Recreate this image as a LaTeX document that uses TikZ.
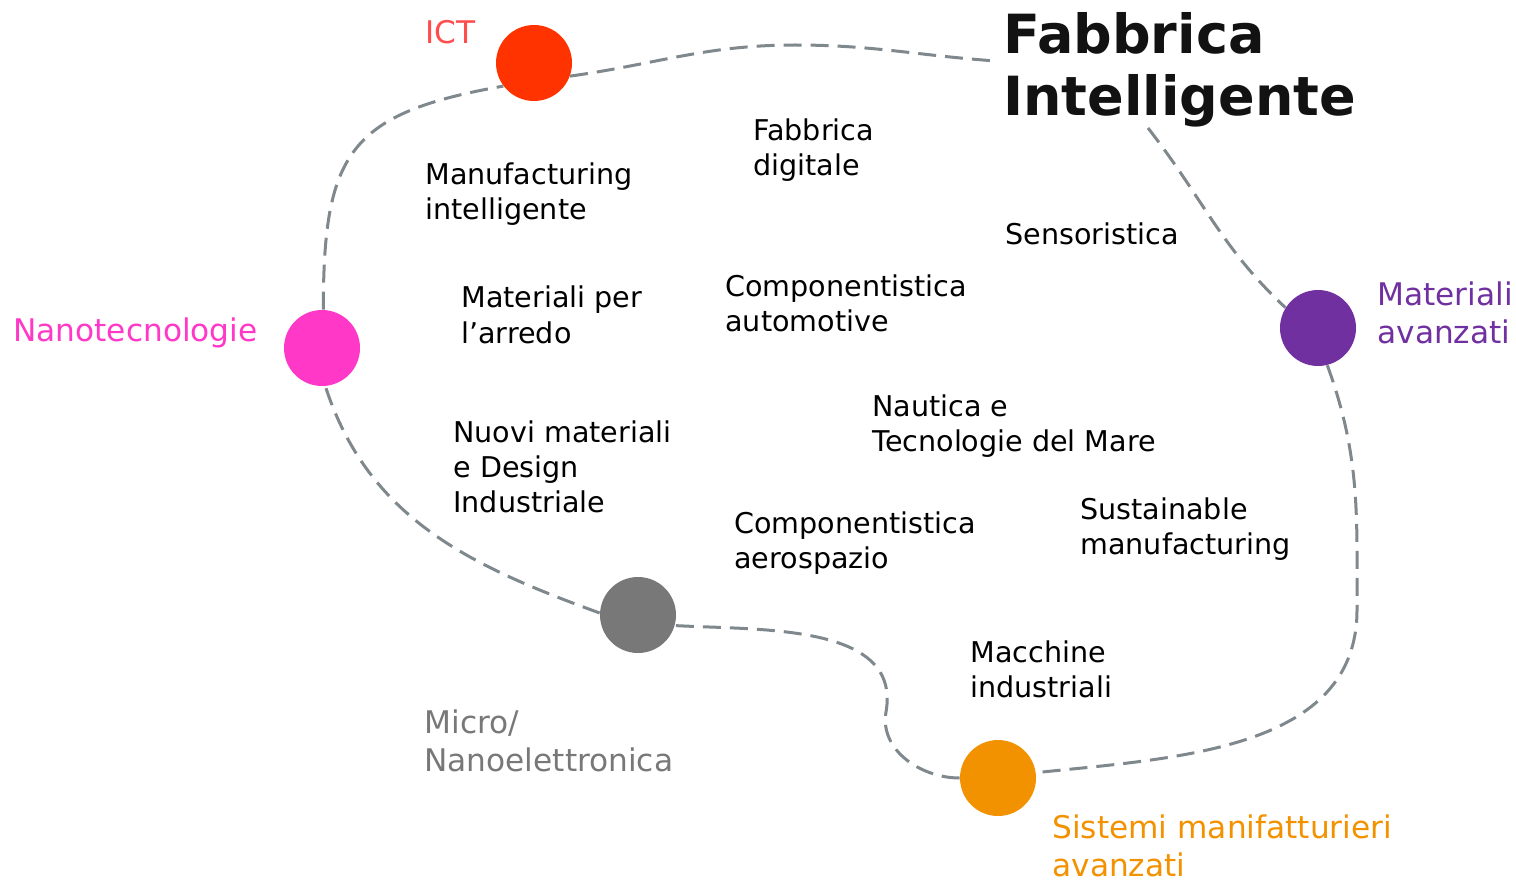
\documentclass[tikz,border=0pt]{standalone}
\usepackage{fontspec}
\setmainfont{DejaVu Sans}
\usepackage{xcolor}
\definecolor{ictred}{RGB}{255,51,0}
\definecolor{ictlabel}{RGB}{255,77,77}
\definecolor{nanopink}{RGB}{255,56,200}
\definecolor{matpurple}{RGB}{112,48,160}
\definecolor{microgrey}{RGB}{120,120,120}
\definecolor{sysorange}{RGB}{243,146,0}
\definecolor{pathgrey}{RGB}{127,136,140}
\tikzset{
    hub/.style={circle, fill=#1, minimum size=38pt, inner sep=0pt},
    field/.style={font=\fontsize{15.6}{19}\selectfont, text=#1,
                  align=left, anchor=base west, inner sep=0pt},
    sector/.style={font=\fontsize{14.3}{17.5}\selectfont,
                   align=left, anchor=base west, inner sep=0pt},
}

\begin{document}
\begin{tikzpicture}[
    x=0.5pt, y=-0.5pt,
    link/.style={pathgrey, line width=1.5pt, dash pattern=on 9pt off 4.5pt},
]
    \useasboundingbox (0,0) rectangle (1516,883);

    \node[anchor=base west, inner sep=0pt, align=left, text=black!93,
          font=\bfseries\fontsize{27}{31}\selectfont] (title) at (1003,116)
          {Fabbrica\\Intelligente};

    \node[hub=ictred] (ict) at (534,63) {};
    \node[hub=nanopink] (nano) at (322,348) {};
    \node[hub=matpurple] (mat) at (1318,328) {};
    \node[hub=microgrey] (micro) at (638,615) {};
    \node[hub=sysorange] (sys) at (998,778) {};

    % base anchor sits on the last line
    \node[field=ictlabel] (ictl) at (425,44) {ICT};
    \node[field=nanopink] (nanol) at (13,341) {Nanotecnologie};
    \node[field=matpurple] (matl) at (1377,343) {Materiali\\avanzati};
    \node[field=microgrey] (microl) at (424,771) {Micro/\\Nanoelettronica};
    \node[field=sysorange] (sysl) at (1052,876) {Sistemi manifatturieri\\avanzati};

    \node[sector] (digi) at (753,176) {Fabbrica\\digitale};
    \node[sector] (manu) at (425,220) {Manufacturing\\intelligente};
    \node[sector] (sens) at (1005,244) {Sensoristica};
    \node[sector] (arredo) at (461,343) {Materiali per\\l’arredo};
    \node[sector] (auto) at (725,331) {Componentistica\\automotive};
    \node[sector] (naut) at (872,451) {Nautica e\\Tecnologie del Mare};
    \node[sector] (design) at (453,512) {Nuovi materiali\\e Design\\Industriale};
    \node[sector] (aero) at (734,568) {Componentistica\\aerospazio};
    \node[sector] (sust) at (1080,554) {Sustainable\\manufacturing};
    \node[sector] (macc) at (970,697) {Macchine\\industriali};

    \coordinate (tw) at (996,61);
    \coordinate (ts) at (1148,128);
    \coordinate (crest) at (795,45);
    \coordinate (rim) at (1357,610);
    \coordinate (kink) at (886,712);

    \draw[link] (nano.88) to[out=90,in=190,looseness=1.4] (ict.217);
    \draw[link] (ict.-20) to[out=8,in=180] (crest) to[out=0,in=176] (tw);
    \draw[link] (ts) to[out=-52,in=137] (mat.148);
    \draw[link] (mat.-76) to[out=-70,in=90] (rim) to[out=-90,in=6] (sys.8);
    \draw[link] (sys.west) to[out=180,in=-100] (kink) to[out=80,in=-3] (micro.-16);
    \draw[link] (micro.177) to[out=160,in=-72] (nano.-85);
\end{tikzpicture}
\end{document}
